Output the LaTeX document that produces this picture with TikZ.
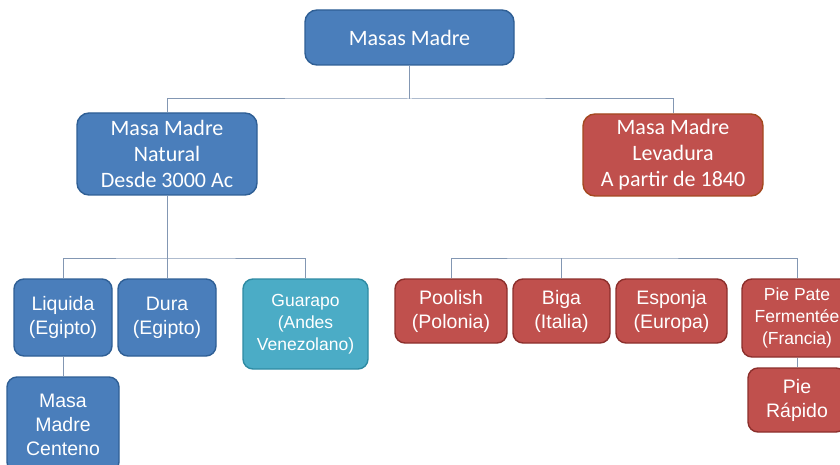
\documentclass[tikz,border=0pt]{standalone}
\usepackage{fontspec}
\newfontfamily\calfont{Carlito}
\newfontfamily\arifont{Liberation Sans}
\definecolor{bluefill}{HTML}{4A7EBB}
\definecolor{blueline}{HTML}{2F5F95}
\definecolor{redfill}{HTML}{C0504D}
\definecolor{redline}{HTML}{8C2F2C}
\definecolor{levline}{HTML}{A4481F}
\definecolor{tealfill}{HTML}{4BACC6}
\definecolor{tealline}{HTML}{2E8BA3}
\definecolor{conn}{HTML}{8397B3}
\tikzset{
  box/.style={rounded corners=10pt, line width=1.4pt, inner sep=0pt, align=center, text=white},
  bluebox/.style={box, fill=bluefill, draw=blueline},
  redbox/.style={box, fill=redfill, draw=redline},
  tealbox/.style={box, fill=tealfill, draw=tealline},
  levbox/.style={box, fill=redfill, draw=levline},
  bigtxt/.style={font=\calfont\fontsize{22}{26}\selectfont},
  midtxt/.style={font=\arifont\fontsize{19.5}{24}\selectfont},
  smalltxt/.style={font=\arifont\fontsize{17.5}{21.7}\selectfont},
  connector/.style={draw=conn, line width=1pt}
}
\begin{document}
\begin{tikzpicture}[x=1pt,y=1pt]
\useasboundingbox (0,0) rectangle (840,-465);
% top level
\node[bluebox, bigtxt, minimum width=209pt, minimum height=55pt, rounded corners=12pt] (top) at (409.5,-37.5) {Masas Madre};
\node[bluebox, bigtxt, minimum width=180pt, minimum height=82pt, rounded corners=12pt] (nat) at (167,-154) {Masa Madre\\Natural\\Desde 3000 Ac};
\node[levbox, bigtxt, minimum width=180pt, minimum height=82pt, rounded corners=12pt] (lev) at (673,-155) {Masa Madre\\Levadura\\A partir de 1840};
% left children
\node[bluebox, midtxt, minimum width=98pt, minimum height=77pt] (liq) at (63,-317.5) {Liquida\\(Egipto)};
\node[bluebox, midtxt, minimum width=98pt, minimum height=77pt] (dura) at (167,-317.5) {Dura\\(Egipto)};
\node[tealbox, smalltxt, minimum width=125pt, minimum height=90pt] (gua) at (305.5,-324) {Guarapo\\(Andes\\Venezolano)};
\node[bluebox, midtxt, minimum width=112pt, minimum height=95pt] (cent) at (63,-424.5) {Masa\\Madre\\Centeno};
% right children
\node[redbox, midtxt, minimum width=112pt, minimum height=64pt] (poo) at (451,-311) {Poolish\\(Polonia)};
\node[redbox, midtxt, minimum width=97pt, minimum height=64pt] (biga) at (561.5,-311) {Biga\\(Italia)};
\node[redbox, midtxt, minimum width=111pt, minimum height=64pt] (esp) at (671.5,-311) {Esponja\\(Europa)};
\node[redbox, smalltxt, minimum width=110pt, minimum height=78pt] (pie) at (797,-318) {Pie Pate\\Ferment\'ee\\(Francia)};
\node[redbox, midtxt, minimum width=98pt, minimum height=64pt] (rap) at (797,-400) {Pie\\R\'apido};
% connectors
\coordinate (tb) at (409.5,-99);
\draw[connector] (top.south) -- (tb);
\draw[connector] (nat.north) |- (tb) -| (lev.north);
\coordinate (lb) at (167,-258);
\draw[connector] (nat.south) -- (dura.north);
\draw[connector] (liq.north) |- (lb) -| (gua.north);
\draw[connector] (liq.south) -- (cent.north);
\coordinate (rb) at (561.5,-258);
\draw[connector] (biga.north) -- (rb);
\draw[connector] (poo.north) |- (rb) -| (pie.north);
\draw[connector] (pie.south) -- (rap.north);
\end{tikzpicture}
\end{document}
